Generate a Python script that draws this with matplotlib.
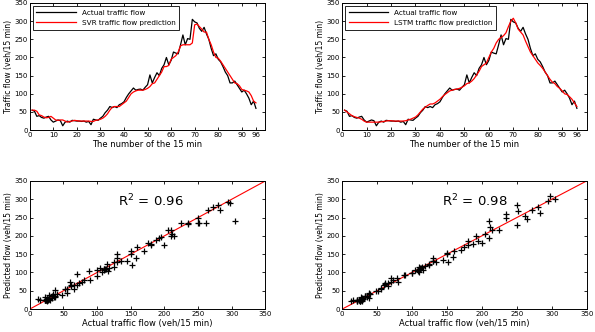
import numpy as np
import matplotlib
matplotlib.use('Agg')
import matplotlib.pyplot as plt

plt.rcParams['font.family'] = 'DejaVu Sans'
plt.rcParams['font.size'] = 5.5

# time index of the 15 min intervals
steps = np.arange(1, 97)

actual = [55, 52, 38, 40, 35, 33, 36, 38, 28, 22, 25, 28, 26, 12, 22, 25,
          22, 27, 26, 25, 25, 24, 25, 22, 24, 15, 30, 28, 27, 33, 38, 48,
          55, 65, 62, 65, 62, 70, 73, 78, 90, 100, 108, 116, 110, 112, 113, 110,
          118, 125, 152, 130, 145, 158, 150, 170, 180, 200, 180, 192, 215, 212,
          210, 235, 262, 235, 252, 250, 305, 298, 295, 280, 272, 283, 265, 250,
          225, 205, 210, 195, 188, 175, 160, 150, 130, 130, 135, 125, 115, 105,
          110, 100, 88, 70, 80, 60]

svr_pred = [55, 55, 52, 42, 40, 36, 34, 35, 38, 33, 28, 27, 28, 28, 25, 22,
            24, 25, 27, 26, 25, 25, 25, 25, 25, 24, 24, 27, 28, 30, 33, 38,
            45, 55, 63, 65, 65, 65, 70, 75, 80, 90, 100, 105, 108, 110, 110, 110,
            112, 115, 120, 128, 130, 140, 150, 160, 175, 175, 178, 195, 200, 205,
            215, 232, 235, 235, 235, 235, 240, 290, 292, 285, 278, 270, 270, 250,
            235, 215, 200, 198, 190, 180, 170, 160, 150, 140, 130, 128, 122, 112,
            110, 108, 105, 95, 80, 75]

lstm_pred = [55, 50, 45, 40, 37, 35, 33, 30, 25, 22, 22, 22, 22, 22, 22, 23,
             24, 25, 26, 26, 25, 25, 25, 25, 25, 26, 28, 30, 33, 36, 42, 50,
             58, 63, 68, 72, 72, 75, 80, 85, 92, 98, 103, 108, 110, 112, 113, 115,
             118, 122, 128, 130, 135, 142, 152, 162, 175, 180, 185, 200, 215, 225,
             240, 250, 255, 260, 268, 285, 300, 308, 295, 278, 270, 262, 245, 230,
             215, 205, 195, 185, 178, 170, 160, 150, 140, 132, 128, 120, 115, 108,
             100, 98, 92, 85, 75, 65]

models = ['SVR', 'LSTM']
preds = [svr_pred, lstm_pred]
r2_text = ['R$^2$ = 0.96', 'R$^2$ = 0.98']
r2_pos = [(180, 296), (190, 296)]

fig = plt.figure(figsize=(5.95, 3.32), dpi=100)
lefts = [0.050, 0.575]
widths = [0.396, 0.411]


def style(ax):
    ax.tick_params(direction='in', top=True, right=True, length=2.5,
                   width=0.6, pad=1.5, labelsize=5)
    for s in ax.spines.values():
        s.set_linewidth(0.7)


for i, (name, pred) in enumerate(zip(models, preds)):
    # time series
    ax = fig.add_axes([lefts[i], 0.608, widths[i], 0.383])
    ax.plot(steps, actual, color='black', lw=0.9, label='Actual traffic flow')
    ax.plot(steps, pred, color='red', lw=0.9,
            label=f'{name} traffic flow prediction')
    ax.set_xlim(0, 100)
    ax.set_ylim(0, 350)
    ax.set_xticks([0, 10, 20, 30, 40, 50, 60, 70, 80, 90, 96])
    ax.set_yticks(range(0, 351, 50))
    ax.set_xlabel('The number of the 15 min', fontsize=6, labelpad=1)
    ax.set_ylabel('Traffic flow (veh/15 min)', fontsize=5.5, labelpad=1)
    leg = ax.legend(loc='upper left', fontsize=5.2, fancybox=False,
                    edgecolor='black', framealpha=1, borderaxespad=0.4,
                    handlelength=5.5, borderpad=0.5, labelspacing=0.6)
    leg.get_frame().set_linewidth(0.6)
    style(ax)

    # scatter actual vs predicted
    ax = fig.add_axes([lefts[i], 0.069, widths[i], 0.386])
    ax.plot([0, 350], [0, 350], color='red', lw=0.8)
    ax.plot(actual, pred, '+', color='black', ms=5, mew=0.9)
    ax.set_xlim(0, 350)
    ax.set_ylim(0, 350)
    ax.set_xticks(range(0, 351, 50))
    ax.set_yticks(range(0, 351, 50))
    ax.set_xlabel('Actual traffic flow (veh/15 min)', fontsize=6, labelpad=1)
    ax.set_ylabel('Predicted flow (veh/15 min)', fontsize=5.5, labelpad=1)
    ax.text(r2_pos[i][0], r2_pos[i][1], r2_text[i], fontsize=9.5,
            ha='center', va='center')
    style(ax)

fig.savefig('out.png', dpi=100)
